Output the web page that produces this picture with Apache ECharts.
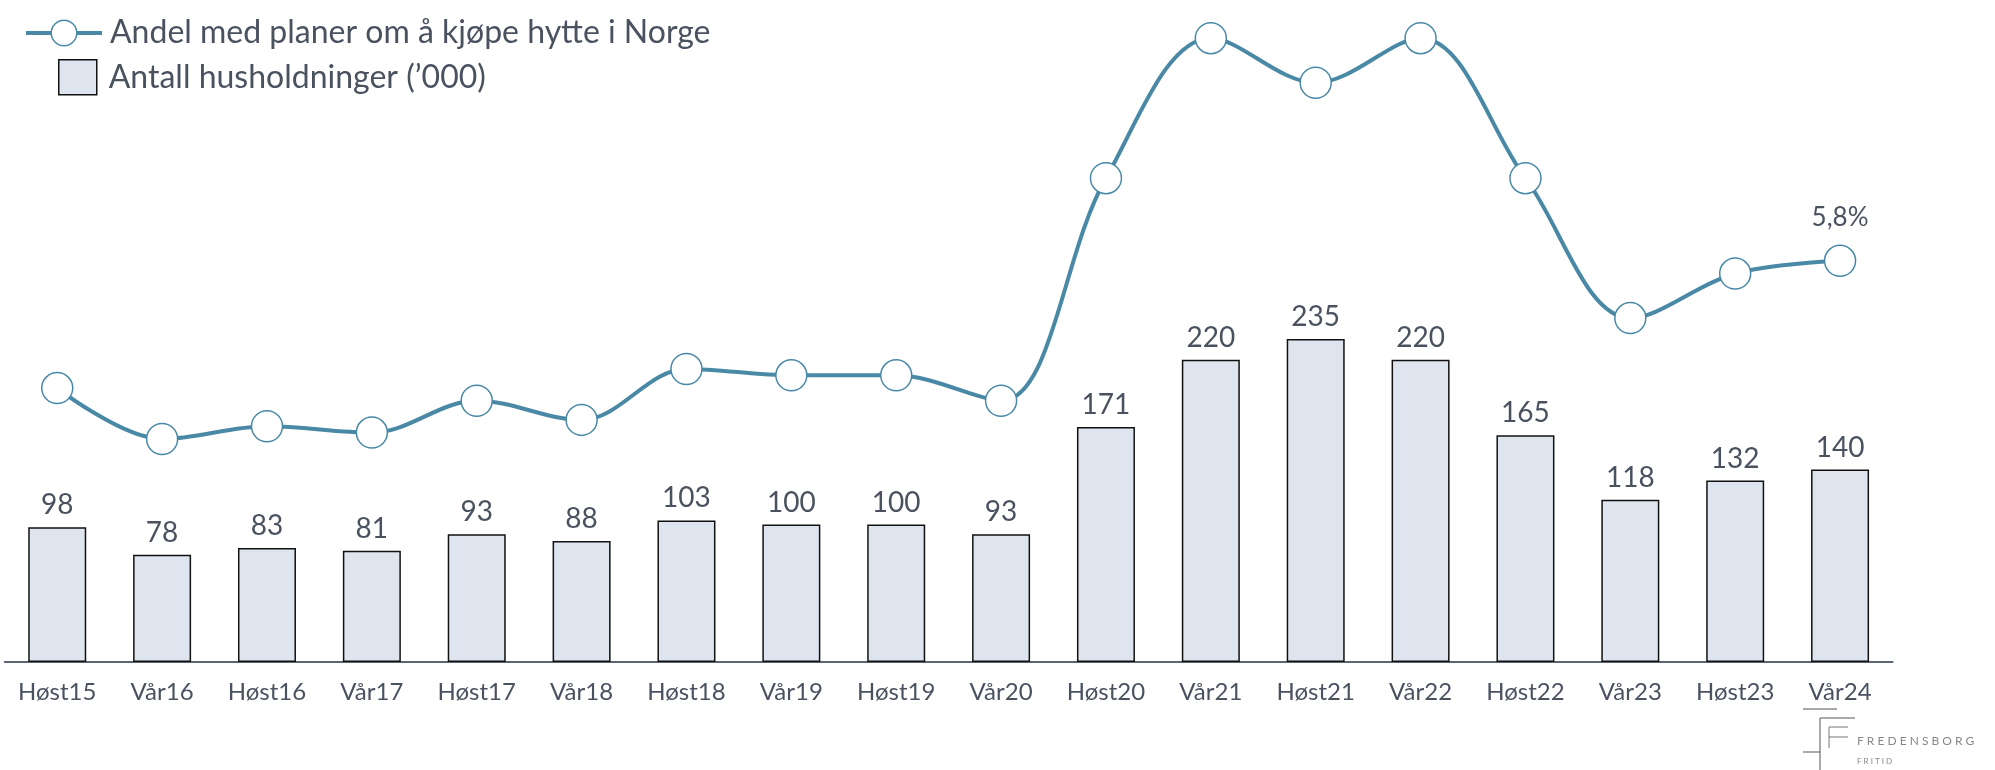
<!DOCTYPE html>
<html>
<head>
<meta charset="utf-8">
<script src="https://cdn.jsdelivr.net/npm/echarts@6/dist/echarts.min.js"></script>
<style>
  html, body { margin: 0; padding: 0; background: #ffffff; }
  #chart { width: 1995px; height: 770px; }
</style>
</head>
<body>
<div id="chart"></div>
<script>
const categories = ['Høst15','Vår16','Høst16','Vår17','Høst17','Vår18','Høst18','Vår19','Høst19','Vår20','Høst20','Vår21','Høst21','Vår22','Høst22','Vår23','Høst23','Vår24'];
const households = [98, 78, 83, 81, 93, 88, 103, 100, 100, 93, 171, 220, 235, 220, 165, 118, 132, 140];
const sharePlans = [3.8, 3.0, 3.2, 3.1, 3.6, 3.3, 4.1, 4.0, 4.0, 3.6, 7.1, 9.3, 8.6, 9.3, 7.1, 4.9, 5.6, 5.8];
const lineName = 'Andel med planer om å kjøpe hytte i Norge';
const barName = 'Antall husholdninger (\u2019000)';

const FONT = 'Lato, "Open Sans", sans-serif';
const TEXT = '#4a5260';
const LINE = '#4a89a6';

const chart = echarts.init(document.getElementById('chart'), null, { renderer: 'canvas' });
const lastIdx = sharePlans.length - 1;

chart.setOption({
  backgroundColor: '#ffffff',
  animation: false,
  textStyle: { fontFamily: FONT },
  legend: [
    {
      data: [lineName],
      left: 19, top: 12,
      itemWidth: 76, itemHeight: 32,
      lineStyle: { width: 4, color: LINE },
      itemStyle: { color: '#ffffff', borderColor: LINE, borderWidth: 1.5 },
      textStyle: { fontFamily: FONT, fontSize: 32, color: TEXT, padding: [0, 0, 0, 3] }
    },
    {
      data: [barName],
      left: 53, top: 54,
      itemWidth: 38, itemHeight: 35,
      icon: 'rect',
      itemStyle: { color: '#dee5ef', borderColor: '#111111', borderWidth: 1.5 },
      textStyle: { fontFamily: FONT, fontSize: 32, color: TEXT, padding: [0, 0, 0, 7] }
    }
  ],
  grid: { left: 4.8, right: 102.5, top: 20, bottom: 108, containLabel: false },
  xAxis: {
    type: 'category',
    data: categories,
    boundaryGap: true,
    axisLine: { show: true, lineStyle: { color: '#5c6672', width: 2 } },
    axisTick: { show: false },
    axisLabel: { fontFamily: FONT, fontSize: 24, color: TEXT, margin: 18, interval: 0 }
  },
  yAxis: [
    { type: 'value', min: 0, max: 467.2, show: false, splitLine: { show: false } },
    { type: 'value', min: -0.506, max: 9.586, show: false, splitLine: { show: false } }
  ],
  series: [
    {
      name: barName,
      type: 'bar',
      yAxisIndex: 0,
      data: households,
      barWidth: 58,
      itemStyle: { color: '#dee5ef', borderColor: '#111111', borderWidth: 1.5 },
      label: { show: true, position: 'top', distance: 8, fontFamily: FONT, fontSize: 28, color: TEXT }
    },
    {
      name: lineName,
      type: 'line',
      yAxisIndex: 1,
      data: sharePlans,
      smooth: 0.35,
      symbol: 'circle',
      symbolSize: 31,
      showAllSymbol: true,
      lineStyle: { color: LINE, width: 4 },
      itemStyle: { color: '#ffffff', borderColor: LINE, borderWidth: 1.5 },
      label: {
        show: true, position: 'top', distance: 14,
        fontFamily: FONT, fontSize: 26, color: TEXT,
        formatter: function (p) { return p.dataIndex === lastIdx ? String(p.value).replace('.', ',') + '%' : ''; }
      },
      z: 3
    }
  ],
  graphic: [
    { type: 'line', shape: { x1: 1803, y1: 709, x2: 1837, y2: 709 }, style: { stroke: '#555', lineWidth: 1 } },
    { type: 'polyline', shape: { points: [[1855, 718], [1820, 718], [1820, 770]] }, style: { stroke: '#555', lineWidth: 1, fill: null } },
    { type: 'line', shape: { x1: 1803, y1: 752, x2: 1820, y2: 752 }, style: { stroke: '#555', lineWidth: 1 } },
    { type: 'polyline', shape: { points: [[1848, 727], [1829, 727], [1829, 748]] }, style: { stroke: '#777', lineWidth: 1, fill: null } },
    { type: 'line', shape: { x1: 1829, y1: 737, x2: 1848, y2: 737 }, style: { stroke: '#777', lineWidth: 1 } },
    { type: 'text', left: 1857, top: 735, style: { text: 'F R E D E N S B O R G', font: '12px ' + FONT, fill: '#888' } },
    { type: 'text', left: 1857, top: 757, style: { text: 'F R I T I D', font: '8px ' + FONT, fill: '#888' } }
  ]
});
</script>
</body>
</html>
